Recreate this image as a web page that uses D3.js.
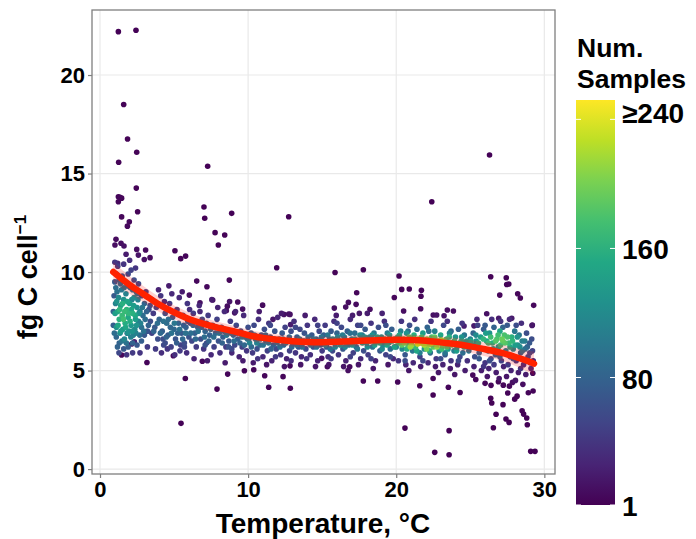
<!DOCTYPE html>
<html>
<head>
<meta charset="utf-8">
<script src="https://cdn.jsdelivr.net/npm/d3@7"></script>
<style>
  body { margin: 0; background: #fff; }
  text { font-family: "Liberation Sans", Arial, sans-serif; font-weight: bold; fill: #000; }
</style>
</head>
<body>
<div id="chart"></div>
<script>
// [temperature, fg C per cell, number of samples]
var coldPoints = [
  [1.2,8.0,150],[1.3,7.6,160],[1.4,8.3,145],[1.5,7.8,170],[1.6,8.6,130],[1.7,7.4,155],[1.8,8.1,165],[1.9,7.7,150],
  [2.0,8.4,140],[2.1,7.3,135],[2.2,7.9,160],[2.3,8.7,120],[2.4,7.6,140],[2.5,8.2,125],[1.1,7.2,130],[1.35,6.9,120],
  [1.55,7.1,140],[1.75,8.9,110],[1.95,7.0,130],[2.15,8.6,115],[2.35,7.1,120],[2.6,7.5,110],[2.7,8.0,105],[1.25,8.7,120],
  [1.45,9.1,100],[1.65,6.6,115],[1.85,6.9,125],[2.05,9.2,90],[2.25,6.8,110],[2.45,9.0,90],[1.05,8.4,110],[1.15,9.0,95],
  [2.8,7.2,95],[2.9,7.8,90],[3.0,8.4,80],[1.0,9.5,70],[1.1,9.9,60],[1.3,9.6,75],[1.5,9.8,65],[1.7,9.5,70],[1.9,9.9,55],
  [2.1,10.1,50],[2.3,9.6,60],[2.6,9.4,55],[2.8,8.8,60],[3.1,9.0,50],[3.3,8.1,55],[3.4,7.5,60],[3.2,7.0,65],[3.0,6.8,70],
  [2.8,6.5,75],[2.5,6.3,70],[2.2,6.4,80],[1.9,6.2,75],[1.6,6.1,70],[1.3,6.4,80],[1.1,6.7,85],[0.9,7.3,75],[0.9,8.0,80],
  [0.95,8.8,70],[1.2,10.3,45],[1.6,10.4,40],[2.0,10.6,35],[1.0,10.5,40],[2.4,10.2,40],[3.5,8.6,45],[3.6,7.9,45],
  [3.5,6.9,50],[3.2,6.2,45],[2.7,5.9,40],[2.2,5.9,45],[1.8,5.8,40],
  [1.02,7.9,140],[1.13,8.5,130],[1.22,7.3,150],[1.33,8.1,165],[1.41,7.0,140],[1.52,8.4,160],[1.58,7.6,175],[1.67,8.0,170],
  [1.73,7.2,150],[1.84,8.5,150],[1.92,7.9,165],[2.03,7.5,155],[2.12,8.1,150],[2.18,7.0,130],[2.27,8.3,140],[2.38,7.8,150],
  [2.47,7.3,130],[2.56,8.6,110],[2.63,7.9,125],[2.74,7.4,110],[2.86,8.2,100],[2.95,7.0,95],[3.05,7.6,90],[3.15,8.0,80],
  [3.27,7.3,80],[3.38,8.3,65],[1.07,9.2,90],[1.38,9.4,90],[1.62,9.2,100],[1.88,9.3,85],[2.2,9.1,95],[2.52,8.9,95],
  [1.18,6.2,80],[1.48,6.5,100],[1.78,6.4,95],[2.08,6.7,110],[2.42,6.9,110],[2.68,6.8,90],[0.97,6.9,90],[1.28,5.9,55]
];

var coolPoints = [
  [3.7,7.2,70],[3.8,8.2,55],[3.9,6.6,60],[4.0,7.6,80],[4.1,8.8,40],[4.2,7.0,75],[4.3,6.3,55],[4.4,7.9,65],[4.5,7.4,90],
  [4.6,6.8,70],[4.7,8.4,45],[4.8,6.2,50],[4.9,7.7,75],[5.0,7.1,85],[5.1,6.6,65],[5.2,8.1,50],[5.3,7.4,80],[5.4,6.0,45],
  [5.5,6.9,70],[5.6,7.8,60],[5.7,6.4,60],[5.8,7.2,75],[5.9,8.4,40],[6.0,6.7,65],[3.75,6.1,45],[4.15,5.9,35],[4.55,6.1,40],
  [5.05,5.8,35],[5.45,6.3,50],[5.85,5.9,35],[4.35,8.5,35],[4.85,8.9,30],[5.35,8.7,30],[3.95,9.1,25],[4.65,9.3,20],
  [5.55,9.0,20],[4.25,6.6,60],[4.75,7.2,85],[5.25,6.9,80],[5.65,7.3,70],
  [6.1,7.4,70],[6.2,6.5,55],[6.3,7.9,45],[6.4,6.9,75],[6.5,6.2,45],[6.6,7.2,80],[6.7,8.3,30],[6.8,6.6,60],[6.9,7.6,60],
  [7.0,6.1,40],[7.1,7.0,80],[7.2,6.4,55],[7.3,7.8,45],[7.4,6.8,75],[7.5,5.8,30],[7.6,7.3,70],[7.7,6.2,50],[7.8,6.9,80],
  [7.9,7.6,50],[8.0,6.5,65],[8.1,5.9,35],[8.2,7.2,70],[8.3,6.7,75],[8.4,8.0,30],[8.5,6.2,45],[8.6,7.0,80],[8.7,6.5,70],
  [8.8,7.5,45],[8.9,5.9,30],[9.0,6.8,85],[9.1,6.3,55],[9.2,7.3,55],[9.3,6.6,75],[9.4,5.7,25],[9.5,7.0,70],[9.6,6.2,50],
  [9.7,7.8,30],[9.8,6.7,90],[9.9,6.0,40],[10.0,7.2,60],[6.35,5.6,25],[7.25,5.5,20],[8.45,5.4,20],[9.65,5.5,20],
  [6.75,8.0,30],[7.95,8.2,25],[9.15,8.0,25],[6.05,8.1,35],[7.55,8.6,20],[8.75,8.5,15],
  [3.63,7.0,80],[3.88,7.4,90],[4.08,6.9,85],[4.28,7.5,95],[4.48,6.7,80],[4.62,7.6,90],[4.83,6.9,95],[5.02,7.4,100],
  [5.18,6.4,75],[5.38,7.1,95],[5.58,6.6,85],[5.78,6.9,95],[5.93,7.5,75],[6.13,6.9,90],[6.28,7.3,85],[6.45,6.6,85],
  [6.63,7.0,95],[6.85,7.2,85],[7.05,6.7,90],[7.18,7.4,70],[7.35,6.5,80],[7.48,7.1,95],[7.68,6.7,90],[7.85,7.2,75],
  [8.05,6.9,95],[8.25,6.4,80],[8.38,7.0,90],[8.55,6.8,100],[8.68,6.2,65],[8.85,6.9,95],[9.05,6.5,90],[9.25,6.9,95],
  [9.45,6.4,80],[9.58,6.7,105],[9.75,6.3,85],[9.95,6.6,100],[4.4,6.4,60],[5.7,6.2,55],[7.1,6.3,65],[8.9,6.1,55]
];

var midPoints = [
  [10.1,6.4,110],[10.2,6.9,80],[10.3,5.9,45],[10.4,7.3,55],[10.5,6.6,95],[10.6,6.1,60],[10.7,7.6,35],[10.8,6.3,85],
  [10.9,6.8,75],[11.0,5.7,30],[11.1,7.1,60],[11.2,6.5,90],[11.3,6.0,50],[11.4,7.4,40],[11.5,6.7,80],[11.6,5.5,25],
  [11.7,6.3,75],[11.8,7.0,65],[11.9,6.1,55],[12.0,7.7,30],[12.1,6.6,85],[12.2,5.8,40],[12.3,6.9,70],[12.4,6.3,80],
  [12.5,7.2,50],[12.6,5.6,25],[12.7,6.5,85],[12.8,6.0,50],[12.9,7.0,60],[13.0,6.4,80],[13.1,7.5,35],[13.2,5.9,40],
  [13.3,6.7,75],[13.4,6.2,65],[13.5,7.1,55],[13.6,5.7,30],[13.7,6.5,85],[13.8,6.9,65],[13.9,6.1,55],[14.0,7.3,40],
  [14.1,6.4,85],[14.2,5.8,35],[14.3,6.8,70],[14.4,6.2,65],[14.5,7.6,30],[14.6,6.6,80],[14.7,5.5,25],[14.8,7.0,55],
  [14.9,6.3,75],[15.0,6.0,45],[10.35,5.4,20],[11.25,5.3,15],[12.45,5.2,15],[13.55,5.3,15],[14.55,5.2,15],
  [10.75,8.0,20],[12.25,7.9,20],[13.85,7.8,20],
  [10.05,6.6,100],[10.22,6.2,85],[10.43,6.8,95],[10.58,6.4,110],[10.82,6.6,105],[11.02,6.3,95],[11.18,6.8,90],
  [11.38,6.4,100],[11.55,6.1,80],[11.75,6.6,105],[11.95,6.4,95],[12.15,6.2,90],[12.35,6.6,100],[12.55,6.4,105],
  [12.78,6.7,90],[12.95,6.2,85],[13.12,6.5,100],[13.28,6.3,95],[13.48,6.6,105],[13.65,6.2,90],[13.82,6.5,100],
  [14.05,6.7,90],[14.22,6.3,100],[14.42,6.6,105],[14.62,6.2,95],[14.78,6.5,105],[14.95,6.7,95],[10.65,5.6,40],
  [11.85,5.7,45],[12.9,5.5,35],[13.95,5.6,40],[11.5,7.3,55],[13.2,7.2,55],[14.7,7.3,50],
  [15.1,6.8,75],[15.2,7.3,45],[15.3,6.2,70],[15.4,5.7,35],[15.5,6.6,90],[15.6,7.0,70],[15.7,6.0,55],[15.8,7.5,35],
  [15.9,6.4,95],[16.0,6.9,80],[16.1,5.8,40],[16.2,6.5,100],[16.3,7.2,55],[16.4,6.1,70],[16.5,6.7,105],[16.6,5.5,25],
  [16.7,7.0,75],[16.8,6.3,100],[16.9,7.6,30],[17.0,6.6,110],[17.1,5.9,50],[17.2,6.9,90],[17.3,6.2,85],[17.4,7.3,50],
  [17.5,6.5,115],[17.6,5.6,30],[17.7,6.8,100],[17.8,6.0,60],[17.9,7.1,70],[18.0,6.4,120],[18.1,5.8,45],[18.2,6.7,115],
  [18.3,7.4,40],[18.4,6.2,95],[18.5,6.9,100],[18.6,5.5,25],[18.7,6.5,125],[18.8,7.2,60],[18.9,6.0,70],[19.0,6.7,130],
  [19.1,6.3,120],[19.2,7.5,35],[19.3,5.8,50],[19.4,6.9,105],[19.5,6.4,135],[19.6,6.1,90],[19.7,7.1,75],[19.8,5.6,30],
  [19.9,6.6,140],[20.0,6.2,115],[15.45,5.3,15],[16.45,5.2,15],[17.45,5.3,15],[18.45,5.1,15],[19.45,5.3,15],
  [15.95,7.8,20],[17.05,7.8,20],[18.05,7.9,20],[19.05,7.9,25],[16.75,5.0,10],
  [15.05,6.5,110],[15.22,6.3,115],[15.38,6.8,100],[15.55,6.1,95],[15.72,6.6,120],[15.88,6.2,110],[16.05,6.7,115],
  [16.22,6.3,125],[16.38,6.8,105],[16.55,6.2,110],[16.72,6.5,130],[16.88,6.9,95],[17.05,6.3,125],[17.22,6.6,135],
  [17.38,6.1,100],[17.55,6.8,120],[17.72,6.4,140],[17.88,6.7,130],[18.05,6.2,120],[18.22,6.5,145],[18.38,6.8,125],
  [18.55,6.3,140],[18.72,6.7,145],[18.88,6.4,150],[19.05,6.1,120],[19.22,6.6,155],[19.38,6.3,150],[19.55,6.8,135],
  [19.72,6.5,160],[19.88,6.2,145],[15.6,5.6,45],[16.9,5.7,50],[18.3,5.6,50],[19.6,5.7,55],[16.0,7.4,50],[17.6,7.3,55],
  [19.3,7.3,60]
];

var warmPoints = [
  [20.1,6.7,150],[20.2,6.4,170],[20.3,7.0,110],[20.4,6.1,120],[20.5,6.6,190],[20.6,5.8,70],[20.7,6.9,130],[20.8,6.3,180],
  [20.9,7.3,60],[21.0,6.5,200],[21.1,6.0,100],[21.2,6.8,160],[21.3,6.2,170],[21.4,7.1,90],[21.5,6.6,210],[21.6,5.7,50],
  [21.7,6.4,200],[21.8,6.9,140],[21.9,6.1,130],[22.0,6.5,220],[22.1,7.2,80],[22.2,6.3,210],[22.3,5.9,90],[22.4,6.7,180],
  [22.5,6.2,190],[22.6,7.0,110],[22.7,5.6,45],[22.8,6.5,200],[22.9,6.0,120],[23.0,6.8,150],[23.1,6.3,190],[23.2,7.3,55],
  [23.3,5.8,70],[23.4,6.6,170],[23.5,6.1,140],[23.6,6.9,110],[23.7,5.5,40],[23.8,6.4,160],[23.9,6.0,110],[24.0,6.7,130],
  [24.1,6.2,140],[24.2,7.1,75],[24.3,5.7,55],[24.4,6.5,150],[24.5,5.9,90],[24.6,6.8,100],[24.7,6.3,130],[24.8,5.5,35],
  [24.9,6.0,100],[25.0,6.6,110],[20.15,5.5,40],[20.65,5.3,25],[21.15,5.4,30],[21.65,5.2,20],[22.15,5.4,30],
  [22.65,5.2,20],[23.15,5.3,25],[23.65,5.1,20],[24.15,5.3,25],[24.65,5.0,20],[20.35,7.5,40],[21.25,7.6,35],
  [22.35,7.5,40],[23.45,7.5,35],[24.45,7.4,40],[20.85,5.0,15],[22.85,4.9,15],[23.95,4.8,15],[21.45,6.35,230],
  [22.55,6.45,245],[20.95,6.2,215],[22.05,6.1,200],[23.05,6.55,215],
  [20.05,6.5,180],[20.22,6.8,150],[20.38,6.3,190],[20.55,6.4,200],[20.72,6.1,160],[20.88,6.7,185],[21.05,6.3,210],
  [21.22,6.6,200],[21.38,6.0,150],[21.55,6.4,225],[21.72,6.7,175],[21.88,6.3,220],[22.08,6.6,205],[22.25,6.0,160],
  [22.42,6.4,235],[22.6,6.7,190],[22.75,6.2,210],[22.92,6.5,215],[23.08,6.1,175],[23.25,6.5,195],[23.42,6.2,180],
  [23.58,6.7,160],[23.75,6.3,185],[23.92,6.5,170],[24.08,6.0,140],[24.25,6.4,165],[24.42,6.7,130],[24.58,6.2,150],
  [24.75,6.5,140],[24.92,6.3,145],[20.6,5.5,60],[21.8,5.5,55],[23.0,5.6,60],[24.2,5.5,55],[20.8,7.0,90],[22.2,7.0,95],
  [23.7,7.0,85],[21.6,5.9,110],[23.3,5.9,100]
];

var hotPoints = [
  [25.1,6.2,120],[25.2,6.9,80],[25.3,5.7,60],[25.4,6.5,130],[25.5,7.3,50],[25.6,5.9,80],[25.7,6.7,140],[25.8,6.1,110],
  [25.9,7.1,70],[26.0,5.4,40],[26.1,6.5,150],[26.2,6.0,100],[26.3,6.9,130],[26.4,5.6,60],[26.5,6.4,160],[26.6,7.2,80],
  [26.7,5.8,80],[26.8,6.6,180],[26.9,6.2,140],[27.0,7.0,150],[27.1,5.5,50],[27.2,6.5,190],[27.3,6.8,180],[27.4,6.0,110],
  [27.5,7.3,70],[27.6,6.4,170],[27.7,5.7,60],[27.8,6.7,160],[27.9,6.1,120],[28.0,7.0,100],[28.1,5.5,45],[28.2,6.3,130],
  [28.3,6.8,100],[28.4,5.9,80],[28.5,6.5,110],[28.6,5.3,35],[28.7,6.1,90],[28.8,6.9,60],[28.9,5.7,55],[29.0,6.4,70],
  [29.1,5.1,30],[29.2,6.0,50],[25.25,5.2,25],[25.75,5.0,20],[26.25,5.1,25],[26.75,4.9,20],[27.25,5.2,25],[27.75,5.0,25],
  [28.25,4.9,20],[28.75,4.8,20],[29.25,5.5,25],[25.45,7.6,30],[26.45,7.6,35],[27.05,7.5,40],[27.65,7.6,30],
  [28.45,7.4,35],[26.95,4.6,15],[27.45,4.7,15],[28.05,4.5,15],[28.55,4.3,10],[26.15,4.7,15],[27.85,4.4,10],
  [25.05,6.5,150],[25.22,6.3,140],[25.38,6.8,120],[25.55,6.4,155],[25.72,6.1,130],[25.88,6.6,165],[26.05,6.9,140],
  [26.22,6.4,170],[26.38,6.7,175],[26.55,6.1,140],[26.72,6.5,185],[26.88,6.8,175],[27.05,6.3,170],[27.15,6.6,195],
  [27.35,6.4,185],[27.52,6.7,180],[27.68,6.2,150],[27.85,6.5,165],[28.02,6.3,140],[28.18,6.7,130],[28.35,6.2,120],
  [28.52,6.0,100],[28.68,6.5,105],[28.85,6.2,80],[29.02,5.9,60],[29.15,6.6,60],[25.6,5.6,70],[26.3,5.5,60],
  [27.0,5.7,75],[27.9,5.6,65],[28.7,5.5,50],[25.9,5.2,40],[26.6,5.3,45],[27.55,5.3,45],[28.4,5.1,40],[29.05,5.4,35],
  [26.0,7.3,70],[27.2,7.2,80],[28.1,7.3,60]
];

var outliers = [
  [1.24,22.2,2],[2.43,22.27,2],[1.6,18.5,3],[1.86,16.75,3],[2.48,16.08,3],[1.26,15.57,3],[7.27,15.37,2],[2.45,14.26,3],
  [1.35,13.8,5],[1.24,13.82,4],[1.46,13.75,4],[1.24,13.57,4],[2.54,13.06,3],[1.46,12.8,5],[1.98,12.55,6],[1.85,12.33,6],
  [7.02,13.3,2],[7.07,12.73,2],[8.89,12.98,2],[7.77,12.0,3],[8.42,11.88,3],[7.99,11.37,3],[1.08,11.66,8],[1.01,11.37,10],
  [1.42,11.46,10],[1.62,11.32,12],[2.48,11.15,10],[3.08,11.12,6],[1.76,10.9,20],[2.59,10.86,14],[2.99,10.64,12],
  [3.38,10.73,8],[5.06,11.08,4],[5.45,10.68,4],[5.78,10.81,4],[11.93,10.22,3],[1.19,10.44,30],[6.53,9.54,6],[8.73,9.59,5],
  [7.22,9.25,6],[6.03,8.83,10],[7.61,8.58,10],[6.75,8.44,12],[9.3,8.48,8],[8.6,8.27,10],[9.63,8.12,10],[9.09,7.93,14],
  [10.98,8.32,8],[8.53,8.04,14],[12.42,7.85,12],[12.74,7.87,12],[11.68,7.6,16],[12.74,12.81,2],[22.4,13.57,2],
  [15.87,9.98,3],[17.78,10.12,3],[20.19,9.8,3],[20.37,9.12,4],[20.88,9.14,4],[21.7,9.07,4],[21.67,8.77,5],[19.87,8.71,5],
  [21.65,8.14,8],[20.5,8.02,10],[17.33,8.95,5],[16.77,8.46,8],[16.59,8.22,10],[17.29,8.36,8],[15.82,8.17,10],
  [18.23,8.11,10],[17.51,7.9,16],[12.83,7.85,12],[12.87,7.33,20],[26.38,9.76,3],[27.43,9.71,3],[27.46,9.37,4],
  [27.6,9.39,4],[26.99,8.83,5],[28.2,8.9,5],[28.38,8.68,5],[29.28,8.31,6],[26.11,7.88,12],[26.92,7.65,18],[27.8,7.65,18],
  [23.45,8.07,10],[23.86,8.02,10],[23.23,7.78,14],[22.73,7.82,14],[22.5,7.82,12],[29.17,7.29,16],[24.58,7.26,22],
  [25.25,7.27,20],[26.3,15.94,2],
  [1.46,5.79,5],[3.17,5.41,4],[4.95,5.75,6],[2.14,6.35,20],[2.32,6.46,25],[1.85,6.89,30],[6.91,5.47,6],[5.76,4.6,3],
  [7.9,4.06,3],[8.62,4.82,4],[9.75,4.99,4],[10.38,5.04,5],[11.12,4.74,4],[11.39,4.15,3],[12.36,4.69,4],[12.85,4.1,3],
  [12.83,5.24,6],[5.47,2.32,2],[29.19,7.31,12],[17.78,4.47,4],[18.75,4.47,4],[20.1,4.42,4],[21.59,4.23,4],[22.49,3.76,3],
  [22.49,4.6,5],[23.52,4.15,4],[24.31,3.89,3],[20.59,2.08,2],[23.57,1.95,2],[22.6,0.85,2],[23.57,0.73,2],[29.08,0.9,2],
  [29.37,0.9,2],[26.56,2.1,2],[27.41,2.54,2],[27.62,2.37,2],[26.74,2.78,2],[28.85,2.25,2],[28.81,2.59,2],[28.5,2.96,3],
  [28.6,2.79,3],[27.21,3.27,3],[26.45,3.35,3],[26.38,3.59,3],[28.0,3.55,3],[28.16,3.7,3],[28.92,3.87,4],[29.24,3.96,4],
  [27.53,3.86,4],[29.22,4.86,6],[26.0,4.35,5],[26.9,4.43,5],[27.23,4.26,5],[27.64,4.21,5],[26.4,4.25,5],[25.37,4.55,6],
  [25.17,4.77,6],[16.86,5.19,8],[15.35,5.19,8],[14.97,5.62,12]
];

// smoothed fit and its confidence band
var fitTemp = [0.9,2,3,4,5,6,7,8,9,10,11,12,13,14,15,16,17,18,19,20,21,22,23,24,25,26,27,28,29,29.3];
var fitMid  = [10.0,9.35,8.85,8.35,7.95,7.62,7.37,7.17,7.0,6.8,6.66,6.56,6.49,6.45,6.44,6.46,6.49,6.52,6.55,6.56,6.55,6.51,6.43,6.35,6.23,6.08,5.92,5.7,5.45,5.35];
var fitLo   = [9.5,8.9,8.45,7.97,7.6,7.29,7.07,6.87,6.72,6.52,6.39,6.29,6.22,6.18,6.17,6.19,6.22,6.25,6.28,6.29,6.28,6.23,6.15,6.05,5.91,5.73,5.52,5.25,4.9,4.75];
var fitHi   = [10.5,9.8,9.25,8.73,8.3,7.95,7.67,7.47,7.28,7.08,6.93,6.83,6.76,6.72,6.71,6.73,6.76,6.79,6.82,6.83,6.82,6.79,6.71,6.65,6.55,6.43,6.32,6.15,6.0,5.95];

var xTicks = [0, 10, 20, 30];
var yTicks = [0, 5, 10, 15, 20];
var legendTicks = [1, 80, 160, 240];
var legendLabels = ['1', '80', '160', '\u2265240'];

var width = 696, height = 539;
var panel = { left: 92, right: 555, top: 10, bottom: 474 };

var svg = d3.select('#chart')
    .append('svg')
    .attr('width', width)
    .attr('height', height);

var x = d3.scaleLinear().domain([-0.54, 30.72]).range([panel.left, panel.right]);
var y = d3.scaleLinear().domain([-0.25, 23.3]).range([panel.bottom, panel.top]);
var colour = d3.scaleSequential(d3.interpolateViridis).domain([1, 252]).clamp(true);

// grid
svg.append('g')
    .selectAll('line')
    .data(xTicks)
    .enter()
    .append('line')
    .attr('x1', function(d) { return x(d); })
    .attr('x2', function(d) { return x(d); })
    .attr('y1', panel.top)
    .attr('y2', panel.bottom)
    .attr('stroke', '#e9e9e9')
    .attr('stroke-width', 1.2);

svg.append('g')
    .selectAll('line')
    .data(yTicks)
    .enter()
    .append('line')
    .attr('x1', panel.left)
    .attr('x2', panel.right)
    .attr('y1', function(d) { return y(d); })
    .attr('y2', function(d) { return y(d); })
    .attr('stroke', '#e9e9e9')
    .attr('stroke-width', 1.2);

// points, low counts first so the dense ones sit on top
var points = outliers.concat(coldPoints, coolPoints, midPoints, warmPoints, hotPoints)
    .sort(function(a, b) { return a[2] - b[2]; });

svg.append('g')
    .selectAll('circle')
    .data(points)
    .enter()
    .append('circle')
    .attr('cx', function(d) { return x(d[0]); })
    .attr('cy', function(d) { return y(d[1]); })
    .attr('r', 2.8)
    .attr('fill', function(d) { return colour(d[2]); });

var fit = fitTemp.map(function(t, i) {
    return { t: t, mid: fitMid[i], lo: fitLo[i], hi: fitHi[i] };
});

svg.append('path')
    .datum(fit)
    .attr('d', d3.area()
        .x(function(d) { return x(d.t); })
        .y0(function(d) { return y(d.lo); })
        .y1(function(d) { return y(d.hi); })
        .curve(d3.curveNatural))
    .attr('fill', '#ff0000')
    .attr('fill-opacity', 0.18);

svg.append('path')
    .datum(fit)
    .attr('d', d3.line()
        .x(function(d) { return x(d.t); })
        .y(function(d) { return y(d.mid); })
        .curve(d3.curveNatural))
    .attr('fill', 'none')
    .attr('stroke', '#ff2200')
    .attr('stroke-width', 6.5)
    .attr('stroke-linecap', 'round');

// panel border
svg.append('rect')
    .attr('x', panel.left)
    .attr('y', panel.top)
    .attr('width', panel.right - panel.left)
    .attr('height', panel.bottom - panel.top)
    .attr('fill', 'none')
    .attr('stroke', '#7f7f7f')
    .attr('stroke-width', 1.3);

// axes
var xAxis = svg.append('g')
    .attr('transform', 'translate(0,' + panel.bottom + ')')
    .call(d3.axisBottom(x).tickValues(xTicks).tickSize(4).tickPadding(3));

var yAxis = svg.append('g')
    .attr('transform', 'translate(' + panel.left + ',0)')
    .call(d3.axisLeft(y).tickValues(yTicks).tickSize(4).tickPadding(3));

[xAxis, yAxis].forEach(function(ax) {
    ax.select('.domain').remove();
    ax.selectAll('.tick line').attr('stroke', '#7f7f7f').attr('stroke-width', 1.2);
    ax.selectAll('.tick text')
        .attr('fill', '#000')
        .style('font-size', '22px')
        .style('font-family', '"Liberation Sans", Arial, sans-serif')
        .style('font-weight', 'bold');
});

svg.append('text')
    .attr('x', 323)
    .attr('y', 533)
    .attr('text-anchor', 'middle')
    .style('font-size', '28px')
    .text('Temperature, \u00b0C');

var yTitle = svg.append('text')
    .attr('transform', 'translate(37,277) rotate(-90)')
    .attr('text-anchor', 'middle')
    .style('font-size', '27px');
yTitle.append('tspan').text('fg C cell');
yTitle.append('tspan')
    .attr('dy', -11)
    .style('font-size', '17px')
    .text('\u22121');

// colour bar legend
var legY = d3.scaleLinear().domain([1, 252]).range([505, 100]);
var grad = svg.append('defs')
    .append('linearGradient')
    .attr('id', 'viridisBar')
    .attr('x1', 0).attr('x2', 0)
    .attr('y1', '100%').attr('y2', 0);

d3.range(0, 1.0001, 0.1).forEach(function(s) {
    grad.append('stop')
        .attr('offset', s * 100 + '%')
        .attr('stop-color', d3.interpolateViridis(s));
});

svg.append('rect')
    .attr('x', 576)
    .attr('y', legY(252))
    .attr('width', 39)
    .attr('height', legY(1) - legY(252))
    .attr('fill', 'url(#viridisBar)');

var legTicks = svg.append('g')
    .selectAll('g')
    .data(legendTicks)
    .enter()
    .append('g');

legTicks.append('line')
    .attr('x1', 576).attr('x2', 581)
    .attr('y1', function(d) { return legY(d); })
    .attr('y2', function(d) { return legY(d); })
    .attr('stroke', '#fff');

legTicks.append('line')
    .attr('x1', 610).attr('x2', 615)
    .attr('y1', function(d) { return legY(d); })
    .attr('y2', function(d) { return legY(d); })
    .attr('stroke', '#fff');

legTicks.append('text')
    .attr('x', 622)
    .attr('y', function(d) { return legY(d) + (d === 240 ? 4 : 11); })
    .style('font-size', '28px')
    .text(function(d, i) { return legendLabels[i]; });

svg.append('text')
    .attr('x', 577)
    .attr('y', 57)
    .style('font-size', '26.5px')
    .text('Num.');

svg.append('text')
    .attr('x', 577)
    .attr('y', 88)
    .style('font-size', '26.5px')
    .text('Samples');
</script>
</body>
</html>
